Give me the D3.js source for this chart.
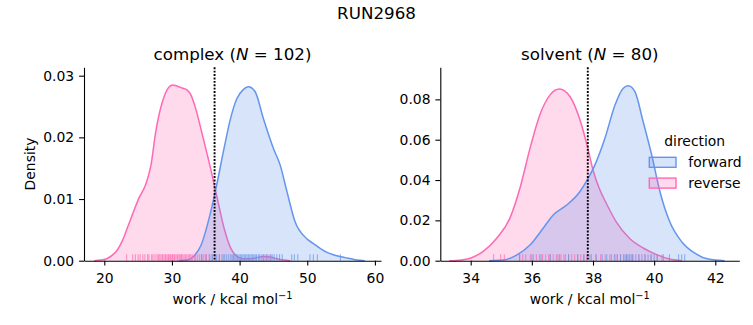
<!DOCTYPE html>
<html>
<head>
<meta charset="utf-8">
<script src="https://cdn.jsdelivr.net/npm/d3@7"></script>
<style>
  html, body { margin: 0; padding: 0; background: #fff; }
  svg { display: block; font-family: "DejaVu Sans", sans-serif; }
</style>
</head>
<body>
<svg id="chart" width="753" height="325"></svg>
<script>
// ---------- DATA ----------
const suptitle = "RUN2968";
const directions = ["forward", "reverse"];
const colors = { forward: "#6495ED", reverse: "#FF69B4" };

// complex panel
const complexTitle = "complex";
const complexN = 102;
const complexTicksX = [20, 30, 40, 50, 60];
const complexTicksY = [0, 0.01, 0.02, 0.03];
const complexDG = 36.3;
const complexForwardX = [31.0, 32.3, 33.3, 34.3, 35.5, 36.5, 37.7, 38.6, 39.6, 40.5, 41.3, 42.3, 43.5, 45.0, 46.0, 47.0, 48.2, 49.9, 51.0, 51.9, 53.0, 54.4, 55.6, 56.5, 57.3, 58.5];
const complexForwardY = [0, 0.0001, 0.0008, 0.0025, 0.0069, 0.0117, 0.0182, 0.0228, 0.0263, 0.0277, 0.0282, 0.0274, 0.0231, 0.0182, 0.0155, 0.0112, 0.0063, 0.0036, 0.0027, 0.0020, 0.0013, 0.0008, 0.0005, 0.0003, 0.0001, 0];
const complexReverseX = [18.5, 19.5, 20.5, 21.2, 21.9, 22.7, 23.4, 24.2, 25.1, 26.1, 26.9, 27.6, 28.6, 29.6, 30.1, 30.8, 31.5, 32.2, 32.8, 33.5, 34.5, 35.7, 36.7, 37.7, 38.7, 39.5, 40.5, 41.5, 42.5, 43.5, 44.5, 45.5, 46.5, 47.5];
const complexReverseY = [0, 0.0001, 0.0004, 0.0009, 0.0017, 0.0033, 0.0053, 0.0076, 0.0101, 0.0123, 0.0155, 0.0209, 0.0258, 0.0282, 0.0285, 0.0283, 0.0280, 0.0277, 0.0269, 0.0247, 0.0204, 0.0150, 0.0101, 0.0053, 0.0020, 0.0008, 0.0003, 0.0003, 0.0005, 0.0007, 0.0006, 0.0003, 0.0001, 0];
const complexForwardRug = [34.4, 35.0, 35.6, 36.0, 36.6, 37.0, 37.4, 37.8, 38.1, 38.4, 38.7, 38.9, 39.1, 39.3, 39.5, 39.7, 39.9, 40.1, 40.3, 40.5, 40.7, 40.9, 41.1, 41.3, 41.5, 41.7, 41.9, 42.1, 42.3, 42.5, 42.8, 43.0, 43.3, 43.6, 43.9, 44.2, 44.5, 44.8, 45.1, 45.5, 45.9, 46.3, 47.7, 48.1, 48.6, 50.4, 50.9, 51.5, 54.9];
const complexReverseRug = [23.3, 24.2, 24.6, 25.0, 25.3, 25.7, 26.0, 26.4, 26.6, 27.0, 27.2, 27.5, 27.8, 28.0, 28.2, 28.4, 28.6, 28.8, 29.0, 29.1, 29.3, 29.5, 29.6, 29.8, 30.0, 30.1, 30.3, 30.4, 30.6, 30.8, 30.9, 31.1, 31.3, 31.4, 31.6, 31.8, 32.0, 32.2, 32.4, 32.6, 32.8, 33.0, 33.3, 33.5, 33.8, 34.1, 34.4, 34.7, 35.1, 35.5, 35.9, 36.4, 37.0, 37.6, 43.5, 44.0, 44.6];

// solvent panel
const solventTitle = "solvent";
const solventN = 80;
const solventTicksX = [34, 36, 38, 40, 42];
const solventTicksY = [0, 0.02, 0.04, 0.06, 0.08];
const solventDG = 37.83;
const solventForwardX = [34.6, 35.07, 35.5, 35.94, 36.37, 36.7, 37.14, 37.57, 37.84, 38.06, 38.39, 38.72, 38.99, 39.15, 39.37, 39.64, 39.92, 40.19, 40.51, 40.9, 41.33, 41.77, 42.3];
const solventForwardY = [0, 0.0003, 0.0028, 0.0078, 0.0161, 0.0227, 0.0276, 0.0342, 0.0408, 0.0474, 0.0607, 0.0772, 0.0855, 0.0867, 0.0838, 0.0689, 0.0524, 0.0342, 0.0193, 0.0094, 0.0037, 0.0008, 0];
const solventReverseX = [33.3, 33.7, 34.03, 34.4, 34.85, 35.28, 35.61, 35.94, 36.26, 36.59, 36.9, 37.25, 37.57, 37.84, 38.0, 38.2, 38.45, 38.77, 39.2, 39.64, 40.08, 40.5, 40.9];
const solventReverseY = [0, 0.0004, 0.0015, 0.0045, 0.0111, 0.0210, 0.0359, 0.0557, 0.0722, 0.0821, 0.0851, 0.0813, 0.0700, 0.0552, 0.0450, 0.0360, 0.0280, 0.0190, 0.0110, 0.0063, 0.0030, 0.0008, 0];
const solventForwardRug = [35.6, 36.0, 36.3, 36.6, 36.9, 37.2, 37.5, 37.7, 37.9, 38.1, 38.3, 38.45, 38.6, 38.7, 38.8, 38.9, 39.0, 39.05, 39.1, 39.15, 39.2, 39.25, 39.3, 39.4, 39.5, 39.6, 39.7, 39.8, 39.9, 40.0, 40.1, 40.3, 40.5, 40.8, 40.9, 41.0];
const solventReverseRug = [34.75, 34.98, 35.1, 35.6, 35.7, 35.8, 35.95, 36.05, 36.15, 36.25, 36.35, 36.45, 36.55, 36.6, 36.7, 36.8, 36.85, 36.95, 37.05, 37.1, 37.2, 37.3, 37.4, 37.5, 37.6, 37.7, 37.8, 37.95, 38.1, 38.25, 38.4, 38.55, 38.75, 38.9, 39.1, 39.3, 39.5, 39.7, 39.9, 40.1, 40.25];

const xLabel = "work / kcal mol";
const yLabel = "Density";
const legendTitle = "direction";

// ---------- DRAWING ----------
const svg = d3.select("#chart");
svg.append("rect").attr("width", 753).attr("height", 325).attr("fill", "#fff");

const FS = 13.9, TFS = 16.7;
const axTop = 67.3, axBottom = 260.7;

svg.append("text").attr("x", 376.5).attr("y", 19).attr("text-anchor", "middle")
  .attr("font-size", TFS).attr("fill", "#000").text(suptitle);

function panel(cfg) {
  const x = d3.scaleLinear().domain(cfg.xDomain).range([cfg.left, cfg.right]);
  const y = d3.scaleLinear().domain(cfg.yDomain).range([axBottom, axTop]);
  const g = svg.append("g");

  const area = d3.area().x(d => x(d[0])).y0(y(0)).y1(d => y(d[1])).curve(d3.curveMonotoneX);
  const line = d3.line().x(d => x(d[0])).y(d => y(d[1])).curve(d3.curveMonotoneX);

  const order = ["reverse", "forward"];
  order.forEach(dir => {
    const pts = cfg.curves[dir][0].map((v, i) => [v, cfg.curves[dir][1][i]]);
    g.append("path").datum(pts).attr("d", area)
      .attr("fill", colors[dir]).attr("fill-opacity", 0.25).attr("stroke", "none");
    g.append("path").datum(pts).attr("d", line)
      .attr("fill", "none").attr("stroke", colors[dir]).attr("stroke-width", 1.5);
  });

  order.forEach(dir => {
    g.selectAll(null).data(cfg.rugs[dir]).enter().append("line")
      .attr("x1", d => x(d)).attr("x2", d => x(d))
      .attr("y1", axBottom).attr("y2", axBottom - 6.5)
      .attr("stroke", colors[dir]).attr("stroke-width", 1.1).attr("stroke-opacity", 0.7);
  });

  g.append("line").attr("x1", x(cfg.dg)).attr("x2", x(cfg.dg))
    .attr("y1", axTop).attr("y2", axBottom)
    .attr("stroke", "#000").attr("stroke-width", 1.9).attr("stroke-dasharray", "1.9,1.5");

  const xa = g.append("g").attr("transform", `translate(0,${axBottom})`)
    .call(d3.axisBottom(x).tickValues(cfg.ticksX).tickFormat(d3.format("d")).tickSize(4.9).tickSizeOuter(0).tickPadding(4.9));
  xa.selectAll("text").attr("dy", null).attr("y", 22.8).attr("font-size", FS).attr("font-family", "DejaVu Sans").attr("fill", "#000");
  const ya = g.append("g").attr("transform", `translate(${cfg.left},0)`)
    .call(d3.axisLeft(y).tickValues(cfg.ticksY).tickFormat(d3.format(".2f")).tickSize(4.9).tickSizeOuter(0).tickPadding(4.9));
  ya.selectAll("text").attr("font-size", FS).attr("font-family", "DejaVu Sans").attr("fill", "#000");
  [xa, ya].forEach(a => {
    a.selectAll("path.domain").attr("stroke", "#000").attr("stroke-width", 1.1);
    a.selectAll(".tick line").attr("stroke", "#000").attr("stroke-width", 1.1);
  });

  const cx = (cfg.left + cfg.right) / 2;
  const t = svg.append("text").attr("x", cx).attr("y", 59.5).attr("text-anchor", "middle")
    .attr("font-size", TFS).attr("fill", "#000");
  t.append("tspan").text(cfg.title + " (");
  t.append("tspan").attr("font-style", "italic").text("N");
  t.append("tspan").text(" = " + cfg.n + ")");

  const xl = svg.append("text").attr("x", cx).attr("y", 304).attr("text-anchor", "middle")
    .attr("font-size", FS).attr("fill", "#000");
  xl.append("tspan").text(xLabel);
  xl.append("tspan").attr("dy", -5.5).attr("font-size", 9.8).text("\u22121");

  return { x, y };
}

panel({
  left: 84, right: 381, xDomain: [17.0, 60.9], yDomain: [0, 0.03136],
  ticksX: complexTicksX, ticksY: complexTicksY, dg: complexDG,
  title: complexTitle, n: complexN,
  curves: { forward: [complexForwardX, complexForwardY], reverse: [complexReverseX, complexReverseY] },
  rugs: { forward: complexForwardRug, reverse: complexReverseRug }
});
panel({
  left: 440.3, right: 739.3, xDomain: [33.006, 42.785], yDomain: [0, 0.0959],
  ticksX: solventTicksX, ticksY: solventTicksY, dg: solventDG,
  title: solventTitle, n: solventN,
  curves: { forward: [solventForwardX, solventForwardY], reverse: [solventReverseX, solventReverseY] },
  rugs: { forward: solventForwardRug, reverse: solventReverseRug }
});

svg.append("text").attr("transform", "translate(35,164) rotate(-90)")
  .attr("text-anchor", "middle").attr("font-size", FS).attr("fill", "#000").text(yLabel);

const lg = svg.append("g");
lg.append("text").attr("x", 694.7).attr("y", 146.3).attr("text-anchor", "middle")
  .attr("font-size", FS).attr("fill", "#000").text(legendTitle);
directions.forEach((dir, i) => {
  const yy = 157.3 + i * 20.8;
  lg.append("rect").attr("x", 649.3).attr("y", yy).attr("width", 26.7).attr("height", 10)
    .attr("fill", colors[dir]).attr("fill-opacity", 0.25)
    .attr("stroke", colors[dir]).attr("stroke-width", 1.4);
  lg.append("text").attr("x", 688.3).attr("y", yy + 9.6)
    .attr("font-size", FS).attr("fill", "#000").text(dir);
});
</script>
</body>
</html>
